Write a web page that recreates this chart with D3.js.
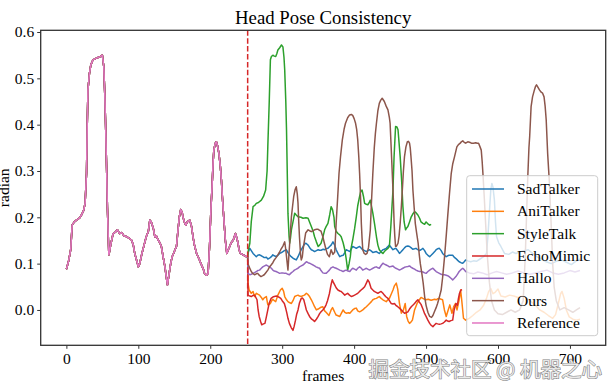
<!DOCTYPE html>
<html>
<head>
<meta charset="utf-8">
<script src="https://cdn.jsdelivr.net/npm/d3@7"></script>
<style>
  html, body { margin: 0; padding: 0; background: #ffffff; }
  svg { display: block; }
</style>
</head>
<body>
<svg id="chart" width="616" height="392"></svg>
<script>
// ---------------- DATA ----------------
const seriesNames = ["SadTalker", "AniTalker", "StyleTalk", "EchoMimic", "Hallo", "Ours", "Reference"];
const seriesColors = ["#1f77b4", "#ff7f0e", "#2ca02c", "#d62728", "#9467bd", "#8c564b", "#e377c2"];
const xTicks = [0, 100, 200, 300, 400, 500, 600, 700];
const yTicks = [0.0, 0.1, 0.2, 0.3, 0.4, 0.5, 0.6];
const splitFrame = 252;

// Reference (frames 0..252) shared by all methods
const refFrames = [0,3,6,8,11,14,18,21,24,26,28,29,30,32,34,37,41,44,47,50,52,53.5,54.5,56,57,59,60.5,62,65,68,71,74,77,80,84,87,90.5,93,95,98,100,102,105,108,111,114,116,118,121,123,125,127.5,130,132,135,137,139,140.5,143,145,147,149,151,153,155,157,159,161,162,164,166,168,171.5,174,176,178,181,183,185,187,189,191,192,195,197,199,201,202.5,204,205,207,208.5,210,212,214,215.5,217,219,221,223,225,227,229,232,235,237,238.6,240,242,245.6,248,250,252];
const refValues = [0.088,0.105,0.13,0.183,0.19,0.194,0.198,0.205,0.215,0.23,0.295,0.40,0.475,0.51,0.529,0.54,0.543,0.545,0.547,0.55,0.525,0.46,0.40,0.30,0.223,0.119,0.13,0.144,0.165,0.168,0.173,0.165,0.167,0.16,0.158,0.155,0.151,0.14,0.122,0.105,0.093,0.1,0.122,0.14,0.158,0.17,0.194,0.19,0.175,0.158,0.16,0.151,0.145,0.137,0.11,0.093,0.07,0.054,0.08,0.1,0.115,0.122,0.13,0.137,0.17,0.201,0.217,0.21,0.201,0.19,0.183,0.19,0.194,0.18,0.158,0.14,0.122,0.115,0.108,0.1,0.093,0.085,0.079,0.075,0.079,0.137,0.22,0.266,0.32,0.345,0.36,0.363,0.355,0.338,0.31,0.28,0.24,0.194,0.15,0.122,0.13,0.137,0.145,0.151,0.165,0.155,0.144,0.13,0.122,0.119,0.117,0.115,0.115];

const sadFrames = [253,255,257,259.5,262,264,266,268.5,271,273,275,278,280,282.4,285,287,289,291.5,294,296.5,299,301,303,305.6,308,310,312.5,315,317,319.6,322,324,326.5,329,331,333,336,338,340.5,343,345,347.5,350,352,354,357,359,361,363.6,366,368,370.6,373,375,377.5,380,382,384.7,387,389,391.5,394,396,398,400.6,403,405,407.6,410,412,414.6,417,419,421.5,424,426,428.5,431,433,435,437.5,440,442,444.6,447,449,451.5,454,456,458,460.6,463,465.6,467.8,470,472,474.7,477,479.4,481.5,484,486,488.6,490.7,493,495.6,498,500,502.6,505,507,509.5,512,514,516,518.5,521,523,525.6,528,530,532,535,537,539,541.5,544,546,548.5,551,553,555,558,562,566,570,575,580,584,586,588,590,591.5,593,595,596.5,598,601,604,609,615,620,625,630,636,642,648,654,660,667,674,681,688,695,702,708,714];
const sadValues = [0.125,0.133,0.128,0.122,0.118,0.115,0.118,0.119,0.117,0.115,0.113,0.114,0.11,0.112,0.115,0.119,0.117,0.115,0.118,0.122,0.124,0.126,0.128,0.13,0.124,0.119,0.115,0.112,0.11,0.108,0.115,0.122,0.13,0.137,0.142,0.144,0.14,0.135,0.13,0.128,0.126,0.128,0.13,0.129,0.129,0.131,0.13,0.132,0.133,0.137,0.14,0.147,0.14,0.13,0.122,0.115,0.117,0.118,0.124,0.13,0.128,0.126,0.132,0.137,0.135,0.133,0.135,0.137,0.133,0.13,0.128,0.126,0.128,0.13,0.127,0.124,0.125,0.126,0.124,0.122,0.126,0.13,0.131,0.133,0.137,0.14,0.135,0.13,0.132,0.133,0.128,0.122,0.126,0.13,0.134,0.137,0.138,0.137,0.134,0.131,0.132,0.133,0.13,0.128,0.13,0.133,0.128,0.122,0.118,0.115,0.118,0.122,0.126,0.13,0.132,0.133,0.128,0.122,0.118,0.115,0.117,0.118,0.118,0.118,0.114,0.111,0.107,0.104,0.102,0.101,0.104,0.108,0.106,0.104,0.106,0.105,0.11,0.115,0.122,0.16,0.21,0.26,0.273,0.265,0.237,0.19,0.158,0.145,0.137,0.122,0.12,0.125,0.122,0.125,0.128,0.13,0.122,0.115,0.11,0.104,0.1,0.105,0.108,0.103,0.098,0.105,0.11];

const aniFrames = [252.5,254,257,259.5,261.5,264,266,268.5,271,273,275,278,280,283.6,285.5,287,289,291,294,297.5,300,302,303.5,306,308,310,312.8,315,317.4,320,322,324,326.5,329,331,333.6,336,338,340.5,343,345,347.5,350,352,354,356.5,359,361,365,368,370,373,375,380,382,384.7,387,389,392,394,398,400.6,403,405,407.6,410,412,414.6,417,419,421.5,424,426,428.5,431,433,435,437.5,440,442,444.6,447,449,451.5,454,456,458.6,460.6,463,465.6,468.5,471,473,475,477,479,481,484,487.5,490.7,493,495.6,498,500,503,505,507,509.5,512,514,516,518.5,521,523,525.5,528,530,533,536,538.4,541,543,546,548,549.5,552,555,560,565,570,575,580,584,587,590,593,596,600,604,610,616,622,628,634,640,646,652,658,664,670,676,680,684,687,689,692,695,699,704,709,714];
const aniValues = [0.058,0.043,0.036,0.04,0.029,0.036,0.034,0.032,0.027,0.022,0.026,0.029,0.011,0.014,0.02,0.023,0.02,0.018,0.032,0.043,0.047,0.04,0.029,0.022,0.018,0.016,0.014,0.02,0.029,0.031,0.032,0.03,0.029,0.031,0.032,0.036,0.033,0.029,0.022,0.014,0.007,0.0,0.002,0.004,0.006,0.007,-0.002,-0.005,-0.012,0.0,0.005,-0.005,-0.011,-0.014,-0.008,0.0,-0.005,-0.007,-0.006,-0.007,0.0,0.003,0.004,-0.002,-0.004,-0.002,0.0,0.004,0.007,0.01,0.014,0.018,0.022,0.024,0.025,0.027,0.029,0.025,0.022,0.02,0.018,0.022,0.025,0.034,0.043,0.052,0.058,0.045,0.014,-0.007,0.0,0.014,-0.014,-0.024,-0.029,-0.026,-0.022,0.0,0.014,0.022,0.027,0.025,0.023,0.022,0.023,0.022,0.021,0.022,0.023,0.022,0.024,0.025,0.023,0.022,0.0,-0.014,-0.004,0.011,-0.007,0.007,0.014,0.0,0.022,0.043,0.022,-0.018,-0.022,-0.018,-0.012,-0.005,0.0,0.01,0.025,0.04,0.046,0.035,0.038,0.045,0.03,0.028,0.032,0.03,0.027,0.03,0.025,0.018,0.01,0.0,-0.005,-0.012,-0.018,-0.01,0.015,0.035,0.04,0.025,0.0,-0.015,-0.02,-0.022,-0.02];

const styleFrames = [253,255,257,259.5,262,264,267,271,274,277,279,280,282,283.6,285,287,289,291,292.5,294,296.5,299,301,302.5,303.5,305,306,307,308,309.5,310.4,311.5,312.8,315,317.4,319.5,322,326,329,333,336,338,340.5,343,345,347.5,350,352,354,357,359,361,363.6,366,368,370,372,373,375,377.5,380,382,384.7,387,389,391,393,394.7,396,398,400.6,403,405,407.6,409,411,413,414.6,417,419,421,422.5,424,426,428.5,431,433,435,437.5,440,442,444.6,447,449,451,452.5,454,455.5,457.6,459.5,461,462.5,464,466,467.8,469.5,471.5,473,474.7,477,479.4,481.5,484,486,488.6,491,493,495.6,498,500,502.5,505,507];
const styleValues = [0.13,0.144,0.19,0.223,0.226,0.23,0.232,0.237,0.245,0.259,0.3,0.352,0.45,0.54,0.547,0.55,0.548,0.547,0.553,0.561,0.566,0.572,0.568,0.545,0.518,0.45,0.389,0.3,0.209,0.16,0.144,0.155,0.173,0.19,0.209,0.205,0.201,0.2,0.198,0.199,0.198,0.19,0.18,0.17,0.158,0.147,0.137,0.14,0.144,0.16,0.173,0.18,0.187,0.205,0.223,0.216,0.2,0.18,0.17,0.165,0.162,0.158,0.145,0.13,0.11,0.086,0.1,0.115,0.135,0.151,0.175,0.201,0.225,0.245,0.255,0.259,0.245,0.23,0.228,0.227,0.232,0.237,0.225,0.209,0.185,0.158,0.14,0.13,0.125,0.122,0.126,0.13,0.133,0.137,0.18,0.22,0.259,0.33,0.396,0.395,0.389,0.36,0.331,0.28,0.223,0.19,0.173,0.177,0.18,0.19,0.201,0.207,0.212,0.21,0.205,0.198,0.19,0.187,0.185,0.19,0.186,0.183,0.185];

const echoFrames = [252.5,255,257,259,261.5,263,265,266.5,268,270,271.5,274,276,278,280,282,284.6,287,289,292,294,296,298,300,303,305,306.5,308,310,312.5,315,316.5,318.5,320,322,324,326.5,328,330,332,333.6,336,338,341,343,345,347.5,350,352,354,356.5,359,361,363,365.6,368,369.6,371,373,375,377.5,380,382,384.5,387,389,391,393.5,396,398,400.6,403,405,407.6,409.7,412,414.6,417,419,421,423.6,426,428,430.5,433,435,437.5,440,442,444.5,447,449,451.4,454,456,458,460.6,463,465.6,468,470,472,474.7,477,479.4,481.5,484,486,488.6,491,493,495.6,498,500,502.5,505,507,509.5,512,514,516,518.5,521,523,525.5,528,530,532,534.5,537,539,541.5,543.5,545,546.5,548.5,550];
const echoValues = [0.032,0.03,0.029,0.031,0.032,0.028,0.022,0.0,-0.014,-0.025,-0.032,-0.03,-0.029,-0.015,0.0,0.015,0.025,0.028,0.029,0.03,0.029,0.027,0.025,0.02,0.014,0.003,-0.007,-0.018,-0.029,-0.038,-0.044,-0.036,-0.022,-0.01,0.0,0.015,0.025,0.026,0.022,0.01,0.0,-0.008,-0.014,-0.02,-0.022,-0.025,-0.02,-0.014,-0.008,-0.004,0.0,0.005,0.011,0.02,0.035,0.055,0.065,0.06,0.054,0.048,0.043,0.041,0.04,0.036,0.032,0.034,0.036,0.032,0.029,0.03,0.032,0.034,0.036,0.04,0.043,0.046,0.05,0.058,0.065,0.06,0.047,0.043,0.04,0.038,0.036,0.038,0.04,0.036,0.032,0.028,0.025,0.02,0.014,0.013,0.014,0.01,0.007,0.004,0.0,-0.004,-0.007,-0.006,-0.004,0.002,0.007,0.01,0.014,0.018,0.022,0.016,0.012,0.002,-0.008,-0.014,-0.022,-0.029,-0.033,-0.036,-0.032,-0.029,-0.03,-0.031,-0.03,-0.029,-0.026,-0.022,-0.024,-0.025,-0.023,-0.022,0.0,0.014,0.01,0.025,0.036,0.043,0.044];

const halloFrames = [252.5,255,257,259.5,262,264,266,268.5,271,273,275.5,278,280,282.4,285,287,289,291.5,294,296.5,299,301,303,305.6,308,310,312.5,315,317,319.6,322,324,326.5,329,331,333.6,336,338,340.5,343,345,347,350,352,354,356.5,359,361,363,365.6,368,370.6,373,375,377.5,380,382,384.7,387,389,391.5,394,396,398,400.6,403,405,407.6,410,412,414.6,417,419,421.5,424,426,428.5,431,433,435,437.5,440,442,444.6,447,449,451.5,454,456,458,460.6,463,465.6,467.8,470,472,474.7,477,479.4,481.5,484,486,488.6,491,493,495.6,498,500,502.6,505,507,509.5,512,514,516,518.5,521,523,525.6,528,530,532,535,537,539,541.5,544,546,548.5,551,553,555,560,566,572,578,585,592,598,605,612,620,628,636,644,652,660,668,676,684,692,700,707,714];
const halloValues = [0.079,0.076,0.077,0.079,0.081,0.083,0.085,0.086,0.09,0.093,0.095,0.097,0.095,0.093,0.09,0.086,0.084,0.083,0.081,0.079,0.08,0.08,0.079,0.079,0.077,0.076,0.08,0.083,0.086,0.088,0.09,0.093,0.095,0.097,0.1,0.104,0.102,0.101,0.099,0.097,0.095,0.093,0.091,0.09,0.085,0.08,0.079,0.079,0.082,0.086,0.091,0.093,0.091,0.09,0.088,0.086,0.085,0.083,0.085,0.086,0.084,0.083,0.087,0.09,0.088,0.086,0.09,0.093,0.09,0.086,0.088,0.09,0.088,0.086,0.088,0.09,0.092,0.093,0.091,0.09,0.096,0.101,0.099,0.097,0.095,0.093,0.094,0.095,0.092,0.09,0.088,0.086,0.088,0.09,0.092,0.093,0.094,0.095,0.092,0.09,0.088,0.086,0.084,0.083,0.083,0.082,0.08,0.079,0.083,0.086,0.088,0.09,0.086,0.083,0.081,0.079,0.077,0.076,0.076,0.075,0.074,0.072,0.068,0.065,0.068,0.072,0.078,0.083,0.087,0.09,0.087,0.083,0.08,0.078,0.082,0.08,0.076,0.08,0.083,0.08,0.077,0.08,0.084,0.08,0.077,0.08,0.083,0.086,0.08,0.077,0.08,0.085,0.082,0.085];

const oursFrames = [252.5,254,257,259,261.5,264,266,268,270.5,273,275,277.5,280,282,284.6,287,289,291.5,294,296,298,301,303.5,305,306,308,309,310.4,312.8,314.5,316,318,319.6,321,322,323,324,325.5,326.5,328,329,331,332.6,336,338,340.5,343,345,348,350,352,354,356.5,358.5,361,363,365.6,368,370.6,373,375,377,379,381,383.6,386,388,391,393.7,396,398,400,402,403.5,405,406.5,407.6,409,410,411,412,414,416,418,420,422.5,424,426,428,429.5,431,433,435,437,439,442,444.5,447,449,450,451.5,453,454.5,455.6,456.5,457.6,459,461,462.5,464,465.5,467,468.5,470,472,474,475.5,477,478,479,480.5,481.7,483.5,485,487,489,490.5,492,494,496,498,500,502.5,505,507.6,509.5,511.6,514,516,518.5,521,523,525.7,528,530,532.5,535,537,539.6,542.8,545,547.5,549,551,553,555,558,560.5,563,566,569,571,573,575,576.7,578,579,581,583,585,588,591,595,600,606,612,618,624,630,635,638,640,641.4,643,644,646,648,650.6,652,653.5,655,657.6,660,662,664,665.5,667,669,671.5,674,676,678,681,686,692,698,704,709,714];
const oursValues = [0.1,0.093,0.083,0.079,0.076,0.078,0.079,0.075,0.072,0.074,0.076,0.081,0.086,0.092,0.097,0.102,0.108,0.113,0.119,0.124,0.13,0.138,0.147,0.13,0.115,0.086,0.11,0.144,0.201,0.225,0.245,0.26,0.266,0.25,0.23,0.19,0.158,0.12,0.108,0.115,0.13,0.15,0.166,0.173,0.171,0.169,0.171,0.173,0.174,0.174,0.172,0.17,0.158,0.145,0.13,0.12,0.115,0.13,0.12,0.125,0.187,0.24,0.295,0.33,0.367,0.39,0.403,0.415,0.421,0.422,0.42,0.413,0.403,0.39,0.367,0.33,0.295,0.24,0.187,0.155,0.13,0.122,0.12,0.122,0.135,0.173,0.23,0.295,0.35,0.38,0.403,0.43,0.446,0.453,0.457,0.45,0.44,0.432,0.415,0.403,0.35,0.295,0.24,0.187,0.16,0.137,0.138,0.144,0.16,0.187,0.22,0.259,0.3,0.331,0.352,0.363,0.364,0.36,0.35,0.331,0.3,0.259,0.22,0.187,0.165,0.144,0.12,0.1,0.08,0.058,0.029,0.01,-0.005,-0.014,-0.016,-0.012,-0.004,0.005,0.014,0.028,0.043,0.07,0.115,0.16,0.201,0.25,0.295,0.315,0.331,0.352,0.357,0.36,0.363,0.365,0.362,0.36,0.363,0.362,0.36,0.36,0.361,0.36,0.36,0.352,0.345,0.32,0.295,0.24,0.18,0.12,0.06,0.02,0.0,-0.008,-0.01,-0.005,0.0,-0.005,0.0,0.02,0.12,0.22,0.288,0.35,0.374,0.439,0.46,0.475,0.482,0.486,0.482,0.475,0.47,0.468,0.46,0.44,0.41,0.338,0.273,0.18,0.1,0.05,0.02,0.0,0.005,0.0,-0.005,0.0,0.005];

const methodFrames = [sadFrames, aniFrames, styleFrames, echoFrames, halloFrames, oursFrames];
const methodValues = [sadValues, aniValues, styleValues, echoValues, halloValues, oursValues];

// ---------------- LAYOUT ----------------
const plot = { left: 40.7, right: 605.7, top: 30.3, bottom: 345.3 };
const font = "'Liberation Serif', 'Times New Roman', serif";

const svg = d3.select("#chart");

const x = d3.scaleLinear().domain([-35.7, 749.7]).range([plot.left, plot.right]);
const y = d3.scaleLinear().domain([-0.0763, 0.6037]).range([plot.bottom, plot.top]);

svg.append("defs").append("clipPath").attr("id", "clip")
  .append("rect").attr("x", plot.left).attr("y", plot.top)
  .attr("width", plot.right - plot.left).attr("height", plot.bottom - plot.top);

const line = d3.line().x(d => x(d[0])).y(d => y(d[1]));
const zip = (fs, vs) => fs.map((f, i) => [f, vs[i]]);
const refPts = zip(refFrames, refValues);

const gLines = svg.append("g").attr("clip-path", "url(#clip)");

methodFrames.forEach((fs, i) => {
  gLines.append("path")
    .datum(refPts.concat(zip(fs, methodValues[i])))
    .attr("d", line)
    .attr("fill", "none")
    .attr("stroke", seriesColors[i])
    .attr("stroke-width", 1.5)
    .attr("stroke-linejoin", "round");
});
gLines.append("path")
  .datum(refPts)
  .attr("d", line)
  .attr("fill", "none")
  .attr("stroke", seriesColors[6])
  .attr("stroke-width", 1.5)
  .attr("stroke-linejoin", "round");

// split marker
svg.append("line")
  .attr("x1", x(splitFrame)).attr("x2", x(splitFrame))
  .attr("y1", plot.top).attr("y2", plot.bottom)
  .attr("stroke", "#d62728").attr("stroke-width", 1.5)
  .attr("stroke-dasharray", "5.5,2.4");

// axes
const xAxis = svg.append("g").attr("transform", `translate(0,${plot.bottom})`)
  .call(d3.axisBottom(x).tickValues(xTicks).tickFormat(d3.format("d")).tickSize(3.5).tickPadding(4));
const yAxis = svg.append("g").attr("transform", `translate(${plot.left},0)`)
  .call(d3.axisLeft(y).tickValues(yTicks).tickFormat(d3.format(".1f")).tickSize(3.5).tickPadding(3));
[xAxis, yAxis].forEach(g => {
  g.select(".domain").remove();
  g.selectAll(".tick line").attr("stroke", "#333").attr("stroke-width", 1);
  g.selectAll(".tick text").attr("font-family", font).attr("font-size", 15.5).attr("fill", "#000");
});

// frame
svg.append("rect")
  .attr("x", plot.left).attr("y", plot.top)
  .attr("width", plot.right - plot.left).attr("height", plot.bottom - plot.top)
  .attr("fill", "none").attr("stroke", "#333").attr("stroke-width", 1.3);

// title & labels
svg.append("text").attr("x", (plot.left + plot.right) / 2).attr("y", 24.3)
  .attr("text-anchor", "middle").attr("font-family", font).attr("font-size", 18.8)
  .text("Head Pose Consistency");
svg.append("text").attr("x", (plot.left + plot.right) / 2).attr("y", 380.5)
  .attr("text-anchor", "middle").attr("font-family", font).attr("font-size", 15.5)
  .text("frames");
svg.append("text")
  .attr("transform", `translate(9,${(plot.top + plot.bottom) / 2}) rotate(-90)`)
  .attr("text-anchor", "middle").attr("font-family", font).attr("font-size", 15.5)
  .text("radian");

// legend
const lg = svg.append("g");
lg.append("rect").attr("x", 466.7).attr("y", 175.7).attr("width", 131).attr("height", 160)
  .attr("rx", 3).attr("fill", "#ffffff").attr("fill-opacity", 0.8)
  .attr("stroke", "#cccccc").attr("stroke-width", 1);
seriesNames.forEach((name, i) => {
  const yy = 189 + i * 22.33;
  lg.append("line").attr("x1", 472).attr("x2", 504).attr("y1", yy).attr("y2", yy)
    .attr("stroke", seriesColors[i]).attr("stroke-width", 1.5);
  lg.append("text").attr("x", 517).attr("y", yy).attr("dy", "0.33em")
    .attr("font-family", font).attr("font-size", 15.5).text(name);
});

// watermark
svg.append("text").attr("x", 602).attr("y", 377)
  .attr("text-anchor", "end")
  .attr("font-family", "'Noto Sans CJK SC', sans-serif").attr("font-size", 20.5)
  .attr("fill", "#f2f2f2").attr("fill-opacity", 0.9)
  .attr("stroke", "#808080").attr("stroke-width", 1.1)
  .attr("paint-order", "stroke")
  .text("掘金技术社区 @ 机器之心");
</script>
</body>
</html>
